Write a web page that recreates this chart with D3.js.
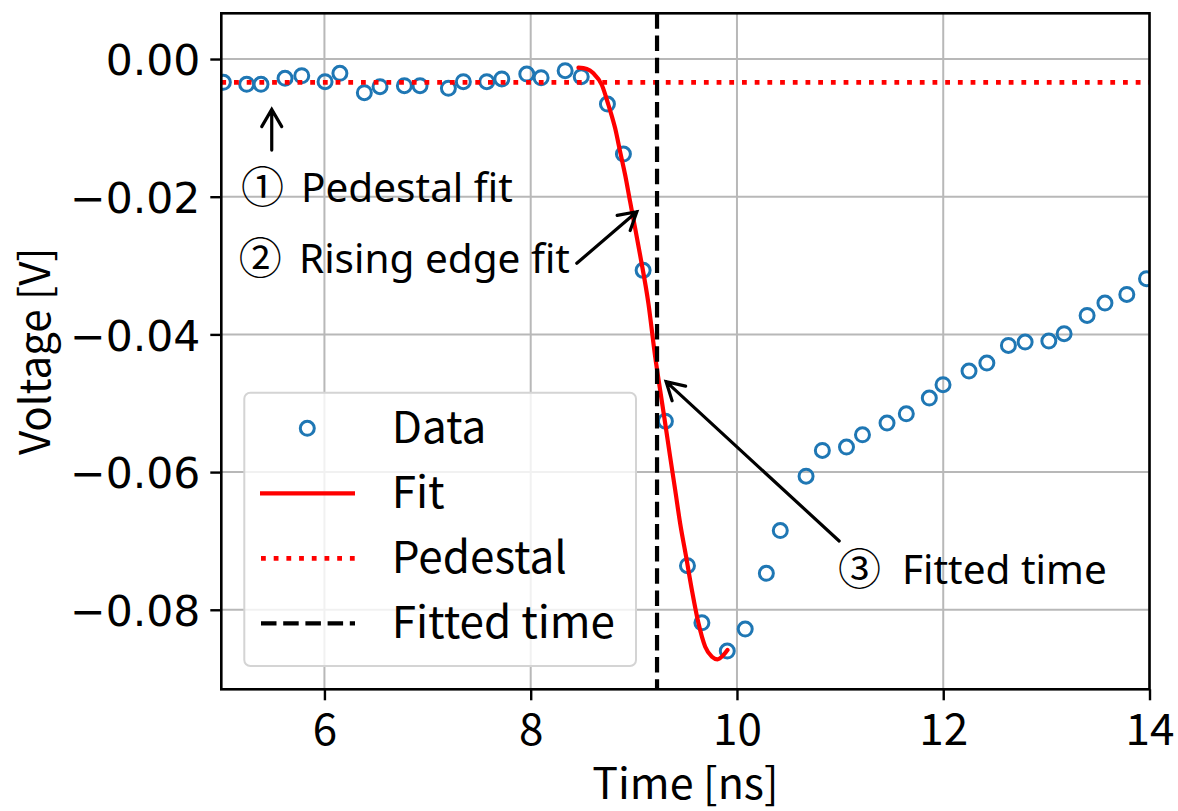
<!DOCTYPE html>
<html>
<head>
<meta charset="utf-8">
<script src="https://d3js.org/d3.v7.min.js"></script>
<style>
  body { margin: 0; background: #fff; }
</style>
</head>
<body>
<div id="chart"></div>
<script>
const timeNs = [5.02, 5.246, 5.385, 5.618, 5.78, 6.006, 6.15, 6.387, 6.539, 6.775, 6.927, 7.202, 7.347, 7.574,
  7.72, 7.962, 8.101, 8.334, 8.49, 8.744, 8.899, 9.09, 9.306, 9.52, 9.66, 9.906, 10.08, 10.285, 10.42,
  10.67, 10.828, 11.062, 11.217, 11.455, 11.642, 11.865, 11.998, 12.25, 12.423, 12.632, 12.794, 13.024,
  13.172, 13.395, 13.568, 13.78, 13.971];
const voltage = [-0.00338, -0.00367, -0.00367, -0.0028, -0.00243, -0.0033, -0.00208, -0.00489, -0.00402,
  -0.00388, -0.00388, -0.00426, -0.0033, -0.0033, -0.0029, -0.00218, -0.00272, -0.0017, -0.00257, -0.00654,
  -0.0138, -0.0307, -0.0526, -0.0736, -0.0819, -0.086, -0.0828, -0.0747, -0.0685, -0.0606, -0.05685,
  -0.05637, -0.05458, -0.05288, -0.05153, -0.04925, -0.04731, -0.04533, -0.04416, -0.0416, -0.04111,
  -0.04097, -0.0399, -0.03724, -0.03545, -0.03419, -0.03191];

// fitted rising edge
const fitTime = [8.463, 8.545, 8.608, 8.69, 8.754, 8.819, 8.867, 8.916, 8.964, 9.013, 9.061, 9.141, 9.207,
  9.255, 9.304, 9.352, 9.401, 9.449, 9.507, 9.563, 9.627, 9.692, 9.757, 9.811, 9.869, 9.908];
const fitVoltage = [-0.00126, -0.00145, -0.00208, -0.00378, -0.00668, -0.01007, -0.01346, -0.01685, -0.02073,
  -0.02459, -0.02847, -0.03547, -0.04324, -0.04808, -0.05292, -0.05777, -0.06261, -0.06744, -0.07229,
  -0.07713, -0.08196, -0.08536, -0.08681, -0.08719, -0.08657, -0.08584];

const pedestalV = -0.0034;
const fittedTimeNs = 9.225;

const xTicks = [6, 8, 10, 12, 14];
const yTicks = [0, -0.02, -0.04, -0.06, -0.08];
const legendLabels = ["Data", "Fit", "Pedestal", "Fitted time"];

const W = 1178, H = 811;
const pLeft = 221.3, pRight = 1149.5, pTop = 13.3, pBottom = 689.3;

const x = d3.scaleLinear().domain([5, 14]).range([pLeft, pRight]);
const y = d3.scaleLinear().domain([-0.09155, 0.00664]).range([pBottom, pTop]);

const svg = d3.select('#chart').append('svg')
  .attr('width', W)
  .attr('height', H)
  .style('background', '#fff');

svg.append('defs').append('clipPath').attr('id', 'plotClip')
  .append('rect')
  .attr('x', pLeft).attr('y', pTop)
  .attr('width', pRight - pLeft).attr('height', pBottom - pTop);

// grid
const grid = svg.append('g');
grid.selectAll('.gx').data(xTicks).enter().append('line')
  .attr('x1', d => x(d)).attr('x2', d => x(d))
  .attr('y1', pTop).attr('y2', pBottom)
  .attr('stroke', '#b8b8b8').attr('stroke-width', 2);
grid.selectAll('.gy').data(yTicks).enter().append('line')
  .attr('x1', pLeft).attr('x2', pRight)
  .attr('y1', d => y(d)).attr('y2', d => y(d))
  .attr('stroke', '#b8b8b8').attr('stroke-width', 2);

const plot = svg.append('g').attr('clip-path', 'url(#plotClip)');

// data points
plot.selectAll('.pt')
  .data(timeNs.map((t, i) => ({ t: t, v: voltage[i] })))
  .enter().append('circle')
  .attr('cx', d => x(d.t))
  .attr('cy', d => y(d.v))
  .attr('r', 7)
  .attr('fill', 'none')
  .attr('stroke', '#1f77b4')
  .attr('stroke-width', 3);

// pedestal
plot.append('line')
  .attr('x1', pLeft).attr('x2', pRight)
  .attr('y1', y(pedestalV)).attr('y2', y(pedestalV))
  .attr('stroke', '#ff0000')
  .attr('stroke-width', 4.8)
  .attr('stroke-dasharray', '4.8,7.9');

// fit
const fitLine = d3.line()
  .x(d => x(d[0]))
  .y(d => y(d[1]))
  .curve(d3.curveMonotoneX);
plot.append('path')
  .datum(fitTime.map((t, i) => [t, fitVoltage[i]]))
  .attr('d', fitLine)
  .attr('fill', 'none')
  .attr('stroke', '#ff0000')
  .attr('stroke-width', 4.2)
  .attr('stroke-linejoin', 'round')
  .attr('stroke-linecap', 'round');

// fitted time
plot.append('line')
  .attr('x1', x(fittedTimeNs)).attr('x2', x(fittedTimeNs))
  .attr('y1', pTop).attr('y2', pBottom)
  .attr('stroke', '#000')
  .attr('stroke-width', 4.2)
  .attr('stroke-dasharray', '15.5,6.7');

// axes
const xAxis = svg.append('g')
  .attr('transform', `translate(0,${pBottom})`)
  .call(d3.axisBottom(x).tickValues(xTicks).tickSize(11).tickFormat(d3.format('d')));
xAxis.select('.domain').remove();
xAxis.selectAll('.tick line').attr('stroke', '#000').attr('stroke-width', 2.4);
xAxis.selectAll('.tick text')
  .attr('y', 56).attr('dy', 0)
  .attr('fill', '#000')
  .style('font-family', '"Noto Sans CJK JP", "Noto Sans", sans-serif')
  .style('font-size', '44px');

const yAxis = svg.append('g')
  .attr('transform', `translate(${pLeft},0)`)
  .call(d3.axisLeft(y).tickValues(yTicks).tickSize(11).tickFormat(d3.format('.2f')));
yAxis.select('.domain').remove();
yAxis.selectAll('.tick line').attr('stroke', '#000').attr('stroke-width', 2.4);
yAxis.selectAll('.tick text')
  .attr('x', -21).attr('dy', '0.37em')
  .attr('fill', '#000')
  .style('font-family', '"DejaVu Sans", sans-serif')
  .style('font-size', '42.5px');

// spines
svg.append('rect')
  .attr('x', pLeft).attr('y', pTop)
  .attr('width', pRight - pLeft).attr('height', pBottom - pTop)
  .attr('fill', 'none')
  .attr('stroke', '#000')
  .attr('stroke-width', 2.6);

// axis labels
svg.append('text')
  .attr('x', (pLeft + pRight) / 2)
  .attr('y', 799)
  .attr('text-anchor', 'middle')
  .style('font-family', '"Noto Sans CJK JP", sans-serif')
  .style('font-size', '43px')
  .text('Time [ns]');

svg.append('text')
  .attr('transform', `translate(50,${(pTop + pBottom) / 2}) rotate(-90)`)
  .attr('text-anchor', 'middle')
  .style('font-family', '"Noto Sans CJK JP", sans-serif')
  .style('font-size', '42px')
  .text('Voltage [V]');

// legend
const legend = svg.append('g');
legend.append('rect')
  .attr('x', 244.3).attr('y', 392.7)
  .attr('width', 391.7).attr('height', 273.3)
  .attr('rx', 6)
  .attr('fill', 'rgba(255,255,255,0.8)')
  .attr('stroke', '#d4d4d4')
  .attr('stroke-width', 2);

const rowY = i => 428.3 + i * 65;
const items = legend.selectAll('.item')
  .data(legendLabels)
  .enter().append('g')
  .attr('transform', (d, i) => `translate(0,${rowY(i)})`);

items.filter((d, i) => i === 0).append('circle')
  .attr('cx', 307.3).attr('cy', 0).attr('r', 7)
  .attr('fill', 'none').attr('stroke', '#1f77b4').attr('stroke-width', 3);
items.filter((d, i) => i === 1).append('line')
  .attr('x1', 260).attr('x2', 355)
  .attr('stroke', '#ff0000').attr('stroke-width', 4.2);
items.filter((d, i) => i === 2).append('line')
  .attr('x1', 261).attr('x2', 355)
  .attr('stroke', '#ff0000').attr('stroke-width', 4.8)
  .attr('stroke-dasharray', '4.8,7.9');
items.filter((d, i) => i === 3).append('line')
  .attr('x1', 261).attr('x2', 355)
  .attr('stroke', '#000').attr('stroke-width', 4.2)
  .attr('stroke-dasharray', '15.5,6.7');

items.append('text')
  .attr('x', 391.7).attr('y', 15)
  .style('font-family', '"Noto Sans CJK JP", sans-serif')
  .style('font-size', '44px')
  .attr('fill', '#000')
  .text(d => d);

// annotations
const notes = [
  { mark: '①', text: 'Pedestal fit', markT: 5.19, textT: 5.773, v: -0.02073,
    tail: [5.489, -0.01322], tip: [5.489, -0.00731] },
  { mark: '②', text: 'Rising edge fit', markT: 5.17, textT: 5.753, v: -0.03104,
    tail: [8.447, -0.02967], tip: [9.029, -0.02218] },
  { mark: '③', text: 'Fitted time', markT: 10.98, textT: 11.6, v: -0.07630,
    tail: [10.991, -0.07001], tip: [9.313, -0.04687] }
];

const ann = svg.append('g');
notes.forEach(n => {
  ann.append('text')
    .attr('x', x(n.markT)).attr('y', y(n.v) + 1)
    .style('font-family', '"Noto Sans CJK JP", sans-serif')
    .style('font-size', '43px')
    .text(n.mark);
  ann.append('text')
    .attr('x', x(n.textT)).attr('y', y(n.v))
    .style('font-family', '"Noto Sans", sans-serif')
    .style('font-size', '40.5px')
    .text(n.text);

  const x0 = x(n.tail[0]), y0 = y(n.tail[1]);
  const x1 = x(n.tip[0]), y1 = y(n.tip[1]);
  const ang = Math.atan2(y1 - y0, x1 - x0);
  const hl = 20, ha = Math.PI / 6;
  const a1 = [x1 - hl * Math.cos(ang - ha), y1 - hl * Math.sin(ang - ha)];
  const a2 = [x1 - hl * Math.cos(ang + ha), y1 - hl * Math.sin(ang + ha)];
  ann.append('path')
    .attr('d', `M${x0},${y0}L${x1},${y1}M${a1[0]},${a1[1]}L${x1},${y1}L${a2[0]},${a2[1]}`)
    .attr('fill', 'none')
    .attr('stroke', '#000')
    .attr('stroke-width', 3.2)
    .attr('stroke-linecap', 'round')
    .attr('stroke-linejoin', 'miter');
});
</script>
</body>
</html>
